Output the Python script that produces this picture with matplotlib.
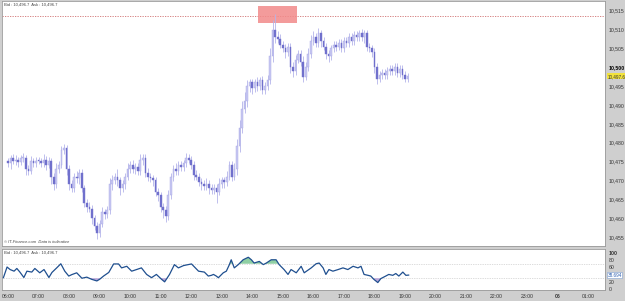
import numpy as np
import matplotlib
matplotlib.use("Agg")
import matplotlib.pyplot as plt
import matplotlib.transforms as mtransforms

plt.rcParams["font.family"] = ["Liberation Sans", "DejaVu Sans"]

# ── 5-minute closes, 06:00 → 19:05 (one row per hour) ────────────────────────
closes = [
    10474.5, 10476, 10475, 10475.5, 10474.8, 10475.8, 10476, 10473, 10472.5, 10475, 10474.5, 10475.2,
    10475, 10474.5, 10475.5, 10474, 10475, 10471, 10469, 10473, 10474, 10478, 10478.5, 10473,
    10469, 10468, 10471, 10470.5, 10472, 10468, 10464, 10463, 10462.5, 10460, 10458, 10456,
    10458.5, 10461.5, 10461, 10462, 10469, 10470, 10471, 10470, 10468, 10469, 10471, 10473,
    10474, 10473, 10473.5, 10472.5, 10475.5, 10476, 10472, 10471, 10470.5, 10470, 10467, 10466,
    10463, 10462, 10460.5, 10466, 10471, 10473, 10472.5, 10474, 10473.5, 10474.5, 10476, 10475.5,
    10474, 10471.5, 10471, 10469.5, 10469, 10468.5, 10469, 10468, 10467.5, 10468, 10467, 10469,
    10470, 10469.5, 10471, 10474, 10471, 10473, 10479, 10484, 10489, 10491, 10495, 10496,
    10494.5, 10496, 10495, 10496.5, 10494, 10495, 10496.5, 10503, 10510, 10508, 10507.5, 10506,
    10505, 10504, 10505.5, 10500, 10499, 10502, 10503.5, 10501.5, 10497.5, 10500, 10503.5, 10507,
    10508, 10506.5, 10509, 10507, 10505.5, 10503.5, 10503, 10505, 10506, 10505.5, 10506.5, 10505,
    10507, 10506.5, 10508, 10507, 10508.5, 10508, 10509, 10508, 10509, 10505.5, 10505, 10504,
    10500, 10497, 10498, 10498.5, 10498, 10499, 10499.5, 10499, 10500, 10498.5, 10499.5, 10498,
    10497, 10497.6,
]
first_open = 10475.0

# wick length above / below the body
wick_up = [
    1, 0.8, 1, 1.2, 0.8, 1, 1.2, 0.8, 1, 1.5, 0.8, 1,
    1, 0.8, 1.5, 1, 1.2, 0.8, 1, 1.5, 1.2, 1, 1.2, 1,
    1, 1.2, 1, 1.5, 1, 1, 0.8, 1, 1.2, 1, 0.8, 1,
    1, 1.5, 1, 1.2, 1.5, 1.5, 1, 2, 1, 1.2, 1, 1.5,
    1, 1.5, 1, 1, 1.5, 1, 1, 1.2, 1, 0.8, 1, 1,
    1, 1, 1.2, 1.5, 1, 1, 1.5, 1, 1, 1, 1.2, 1,
    1, 1, 1.2, 1, 1, 1, 1.5, 1, 1, 1, 1, 1.5,
    1, 1, 1.5, 1.2, 1, 1.5, 2, 2, 2, 2.5, 1.5, 1,
    1, 1, 1.5, 1, 1.2, 1, 1.5, 2, 2.5, 4, 1.5, 1.2,
    1, 1.2, 1, 1, 1.5, 1.2, 1.2, 1, 1.5, 1.5, 1.5, 1.5,
    1.5, 1, 1.5, 1, 1, 1, 1.2, 1, 1, 1, 1, 1,
    1, 1, 1, 1, 1, 1, 1, 1.2, 1, 1, 1, 1,
    1, 1, 1, 1, 1, 1, 1, 1, 1, 1, 1, 1,
    1, 0.8,
]
wick_dn = [
    1, 1.5, 0.8, 1, 1.2, 0.8, 1, 1.5, 1.2, 0.8, 1, 1,
    0.8, 1, 1, 1.2, 0.8, 2, 1.5, 1, 1, 0.8, 1, 1.5,
    1.5, 1, 1, 1.2, 1.5, 1.2, 1, 1.5, 1, 1.5, 1.2, 1.5,
    1, 1, 1.2, 1, 1, 1.5, 1, 1.5, 2, 1, 1.2, 1,
    1, 1, 1.2, 1, 1, 1.5, 1, 1.2, 1, 1.5, 1.2, 1.5,
    1.5, 2, 1.5, 1, 1, 1.2, 1, 1, 1, 1, 1, 1,
    1, 1.5, 1, 1, 1.5, 1, 1, 1.5, 1.2, 1, 3, 1,
    1, 1.5, 1, 1, 1.2, 1, 1.5, 1.5, 1.5, 1.2, 1.5, 1.5,
    1.5, 1, 1.2, 1, 1, 1.2, 1, 1, 1.5, 1.5, 1.2, 1,
    1, 1.5, 1, 1.5, 1.5, 1, 1, 1.2, 1.5, 1, 1, 1,
    1, 1.2, 1, 1.5, 1, 1.2, 1.5, 1, 1, 1.2, 1, 1,
    1, 1.2, 1, 1, 1, 1, 1, 1, 1.5, 1.2, 1, 1.2,
    1.5, 1.5, 1, 1, 1, 1, 1, 1, 1, 1, 1, 1,
    1, 0.8,
]

# RSI readings (time in hours, value)
rsi_time = [5.85, 5.97, 6.07, 6.20, 6.29, 6.39, 6.52, 6.62, 6.78, 6.88, 7.04, 7.18,
            7.34, 7.44, 7.60, 7.73, 7.86, 7.99, 8.09, 8.25, 8.42, 8.58, 8.74, 8.91,
            9.00, 9.13, 9.30, 9.46, 9.62, 9.72, 9.89, 10.05, 10.21, 10.37, 10.54, 10.70,
            10.86, 11.03, 11.13, 11.29, 11.45, 11.58, 11.75, 12.01, 12.24, 12.43, 12.56,
            12.66, 12.73, 12.82, 12.89, 13.05, 13.15, 13.25, 13.31, 13.41, 13.54, 13.70,
            13.87, 13.97, 14.06, 14.23, 14.36, 14.46, 14.62, 14.78, 14.88, 15.04, 15.17,
            15.27, 15.44, 15.60, 15.70, 15.93, 16.09, 16.19, 16.32, 16.41, 16.51, 16.64,
            16.81, 16.97, 17.13, 17.30, 17.46, 17.56, 17.66, 17.79, 17.88, 17.98, 18.11,
            18.21, 18.37, 18.47, 18.60, 18.70, 18.80, 18.93, 19.03, 19.12]
rsi_vals = [31.5, 61, 54, 49.5, 57, 47, 32, 49.5, 47, 57, 45, 54,
            32, 46, 59, 70, 49.5, 36, 40, 45, 30, 33, 27, 22.5,
            27, 36, 46, 69.5, 69.5, 58.6, 63, 49.5, 54, 58.6, 40.5, 31.5,
            40.5, 27, 20, 40.5, 67.6, 58.6, 65, 69.5, 49.5, 47, 36,
            38, 40.5, 36, 31.5, 45, 49.5, 67.6, 81, 58.6, 67.6, 81,
            88, 81, 72, 76.5, 67.6, 72, 81, 81, 67.6, 54, 40.5,
            54, 45, 63, 45, 58.6, 70, 72, 58.6, 40.5, 54, 49.5,
            54, 58.6, 54, 63, 58.6, 63, 40.5, 38, 36, 27, 18,
            29, 36, 40.5, 38, 43, 36, 47, 38, 38.694]

price_ticks = [10455, 10460, 10465, 10470, 10475, 10480, 10485, 10490,
               10495, 10500, 10505, 10510, 10515]
last_price = 10497.6
day_high = 10513.7
rsi_ticks = [0, 20, 60, 80, 100]
hour_ticks = list(range(6, 26))
hour_labels = ["%02d:00" % (h % 24) for h in hour_ticks]
hour_labels[18] = "06"
header = "Bid : 10,496.7  Ask : 10,496.7"

# ── Derived series ────────────────────────────────────────────────────────────
closes = np.array(closes)
opens = np.concatenate([[first_open], closes[:-1]])
highs = np.maximum(opens, closes) + np.array(wick_up)
lows = np.minimum(opens, closes) - np.array(wick_dn)
t = 6 + np.arange(len(closes)) / 12.0
rsi_time = np.array(rsi_time)
rsi_vals = np.array(rsi_vals)

# ── Figure ────────────────────────────────────────────────────────────────────
FS = 3.7
SMALL = 3.0
fig = plt.figure(figsize=(6.25, 3.01), dpi=100, facecolor="#cfcfcf")
ax = fig.add_axes([0.003, 0.183, 0.965, 0.814])
ax2 = fig.add_axes([0.003, 0.036, 0.965, 0.137], sharex=ax)

for a in (ax, ax2):
    a.set_facecolor("white")
    for s in a.spines.values():
        s.set_color("#9a9a9a")
        s.set_linewidth(0.6)

# candles
up = closes >= opens
ax.vlines(t, lows, highs, color="#b4b4ea", linewidth=0.6, zorder=2)
body_h = np.where(np.abs(closes - opens) < 0.3, 0.3, closes - opens)
ax.bar(t[up], body_h[up], bottom=opens[up], width=0.055,
       color="#c8c8f2", edgecolor="#a8a8e4", linewidth=0.3, zorder=3)
ax.bar(t[~up], body_h[~up], bottom=opens[~up], width=0.055,
       color="#7070cc", edgecolor="#7070cc", linewidth=0.3, zorder=3)

# day high marker
ax.axhline(day_high, color="#d07070", linestyle=(0, (1.5, 1.5)), linewidth=0.6, zorder=1)
ax.fill_between([14.2, 15.45], 10511.8, 10516.3, color="#f28a8a", alpha=0.85,
                zorder=1, linewidth=0)

ax.set_xlim(5.8, 25.55)
ax.set_ylim(10452.6, 10517.6)
ax.yaxis.tick_right()
ax.set_yticks(price_ticks)
ax.set_yticklabels([f"{p:,}" for p in price_ticks], fontsize=FS, color="#333333")
ax.tick_params(axis="y", length=0, pad=2.5)
ax.tick_params(axis="x", length=0, labelbottom=False)
for lab in ax.get_yticklabels():
    if lab.get_text() == "10,500":
        lab.set_fontweight("bold")
        lab.set_color("black")

trans = mtransforms.blended_transform_factory(ax.transAxes, ax.transData)
ax.text(1.004, last_price, f"{last_price:,.1f}", transform=trans, fontsize=3.3,
        va="center", ha="left", color="#333333",
        bbox=dict(boxstyle="square,pad=0.12", fc="#f2e23c", ec="none"))

ax.text(0.004, 0.995, header, transform=ax.transAxes, fontsize=SMALL,
        va="top", ha="left", color="#444444")
ax.text(0.004, 0.008, "© IT-Finance.com  Data is indicative", transform=ax.transAxes,
        fontsize=SMALL, va="bottom", ha="left", color="#444444", style="italic")

# RSI panel
ax2.plot(rsi_time, rsi_vals, color="#1f4f8f", linewidth=0.9, zorder=3)
ax2.fill_between(rsi_time, rsi_vals, 70, where=rsi_vals > 70, interpolate=True,
                 color="#8fcfa3", linewidth=0, zorder=2)
ax2.fill_between(rsi_time, rsi_vals, 30, where=rsi_vals < 30, interpolate=True,
                 color="#b9a6d9", linewidth=0, zorder=2)
for lvl in (70, 30):
    ax2.axhline(lvl, color="#bbbbbb", linestyle=(0, (1, 1.5)), linewidth=0.5, zorder=1)
ax2.set_ylim(-3, 111)
ax2.yaxis.tick_right()
ax2.set_yticks(rsi_ticks)
ax2.set_yticklabels([str(v) for v in rsi_ticks], fontsize=FS, color="#333333")
ax2.tick_params(axis="y", length=0, pad=2.5)
ax2.get_yticklabels()[-1].set_fontweight("bold")
trans2 = mtransforms.blended_transform_factory(ax2.transAxes, ax2.transData)
ax2.text(1.004, rsi_vals[-1], f"{rsi_vals[-1]:.3f}", transform=trans2, fontsize=3.3,
         va="center", ha="left", color="#2a5db0",
         bbox=dict(boxstyle="square,pad=0.12", fc="white", ec="#7fa0d0", lw=0.4))
ax2.text(0.004, 0.97, header, transform=ax2.transAxes, fontsize=SMALL,
         va="top", ha="left", color="#444444")

ax2.set_xticks(hour_ticks)
ax2.set_xticklabels(hour_labels, fontsize=FS, color="#333333")
ax2.tick_params(axis="x", length=0, pad=2.5)
for lab in ax2.get_xticklabels():
    if lab.get_text() == "06":
        lab.set_fontweight("bold")

fig.savefig("out.png", dpi=100, facecolor=fig.get_facecolor())
